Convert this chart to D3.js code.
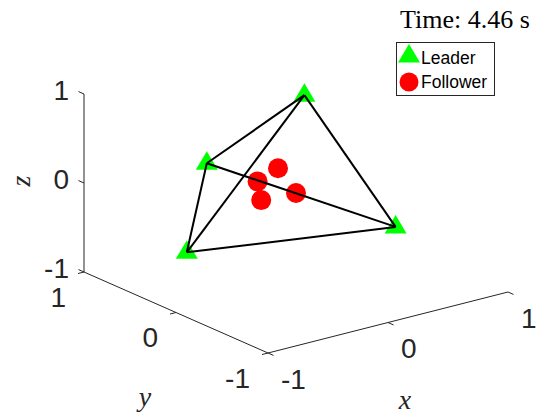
<!DOCTYPE html>
<html>
<head>
<meta charset="utf-8">
<script src="https://cdn.jsdelivr.net/npm/d3@7"></script>
<style>
  body { margin: 0; background: #fff; }
</style>
</head>
<body>
<div id="chart"></div>
<script>
// leader positions (x, y, z) at t = 4.46 s
const leaderX = [0.30, -0.36, -0.68, 0.60];
const leaderY = [0.30, 0.50, 0.30, -0.30];
const leaderZ = [0.86, 0.23, -0.57, -0.45];

// follower positions
const followerX = [-0.15, -0.32, -0.29, 0.00];
const followerY = [0.00, 0.00, 0.00, 0.00];
const followerZ = [0.33, 0.24, 0.02, 0.00];

// leader links (indices)
const links = [[0, 1], [0, 2], [0, 3], [1, 2], [1, 3], [2, 3]];

const ticks = [-1, 0, 1];
const timeLabel = "Time: 4.46 s";

const width = 560, height = 420;
const sans = "'Liberation Sans', Arial, sans-serif";
const serif = "'Liberation Serif', 'Times New Roman', serif";

const svg = d3.select("#chart")
  .append("svg")
  .attr("width", width)
  .attr("height", height)
  .style("font-family", sans);

// orthographic view: each data axis maps to a 2D screen offset
const origin = [296, 193];
const xs = d3.scaleLinear().domain([-1, 1]).range([[-120, 30.5], [120, -30.5]]);
const ys = d3.scaleLinear().domain([-1, 1]).range([[92, 40.5], [-92, -40.5]]);
const zs = d3.scaleLinear().domain([-1, 1]).range([[0, 89], [0, -89]]);

function project(x, y, z) {
  const a = xs(x).slice(), b = ys(y).slice(), c = zs(z).slice();
  return [origin[0] + a[0] + b[0] + c[0], origin[1] + a[1] + b[1] + c[1]];
}

const axisColor = "#262626";
const axes = svg.append("g");

function seg(p, q) {
  axes.append("line")
    .attr("x1", p[0]).attr("y1", p[1])
    .attr("x2", q[0]).attr("y2", q[1])
    .attr("stroke", axisColor)
    .attr("stroke-width", 1);
}

// axis lines
seg(project(-1, -1, -1), project(1, -1, -1));
seg(project(-1, 1, -1), project(-1, -1, -1));
seg(project(-1, 1, -1), project(-1, 1, 1));

const tickFont = 28;

// x ticks
ticks.forEach(t => {
  const p = project(t, -1, -1);
  seg(p, project(t, -1.06, -1));
  axes.append("text")
    .attr("x", p[0] + 13).attr("y", p[1] + 26)
    .attr("dominant-baseline", "central")
    .attr("font-size", tickFont)
    .attr("fill", axisColor)
    .text(t);
});

// y ticks
ticks.forEach(t => {
  const p = project(-1, t, -1);
  seg(p, project(-1.05, t, -1));
  axes.append("text")
    .attr("x", p[0] - 18).attr("y", p[1] + 25)
    .attr("text-anchor", "end")
    .attr("dominant-baseline", "central")
    .attr("font-size", tickFont)
    .attr("fill", axisColor)
    .text(t);
});

// z ticks
ticks.forEach(t => {
  const p = project(-1, 1, t);
  seg(p, project(-1, 1.06, t));
  axes.append("text")
    .attr("x", p[0] - 15).attr("y", p[1] - 4)
    .attr("text-anchor", "end")
    .attr("dominant-baseline", "central")
    .attr("font-size", tickFont)
    .attr("fill", axisColor)
    .text(t);
});

// axis labels
const labelStyle = sel => sel
  .style("font-family", serif)
  .style("font-style", "italic")
  .attr("font-size", 28)
  .attr("fill", axisColor)
  .attr("text-anchor", "middle")
  .attr("dominant-baseline", "central");

svg.append("text").call(labelStyle).attr("x", 405).attr("y", 399).text("x");
svg.append("text").call(labelStyle).attr("x", 145).attr("y", 396).text("y");
svg.append("text").call(labelStyle)
  .attr("transform", "translate(20,181) rotate(-90)")
  .text("z");

// markers
const leaders = leaderX.map((x, i) => project(x, leaderY[i], leaderZ[i]));
const followers = followerX.map((x, i) => project(x, followerY[i], followerZ[i]));

const triPath = "M0,-12L11,6.5L-11,6.5Z";

svg.append("g").selectAll("path")
  .data(leaders)
  .join("path")
  .attr("d", triPath)
  .attr("transform", d => `translate(${d[0]},${d[1]})`)
  .attr("fill", "#00ff00");

svg.append("g").selectAll("circle")
  .data(followers)
  .join("circle")
  .attr("cx", d => d[0])
  .attr("cy", d => d[1])
  .attr("r", 10)
  .attr("fill", "#ff0000");

svg.append("g").selectAll("line")
  .data(links)
  .join("line")
  .attr("x1", d => leaders[d[0]][0])
  .attr("y1", d => leaders[d[0]][1])
  .attr("x2", d => leaders[d[1]][0])
  .attr("y2", d => leaders[d[1]][1])
  .attr("stroke", "#000")
  .attr("stroke-width", 2);

// time label
svg.append("text")
  .attr("x", 400).attr("y", 28)
  .style("font-family", serif)
  .attr("font-size", 26)
  .attr("fill", "#000")
  .text(timeLabel);

// legend
const legend = svg.append("g");
legend.append("rect")
  .attr("x", 396.5).attr("y", 42.5)
  .attr("width", 98).attr("height", 53)
  .attr("fill", "#fff")
  .attr("stroke", axisColor)
  .attr("stroke-width", 1);

legend.append("path")
  .attr("d", triPath)
  .attr("transform", "translate(409,56)")
  .attr("fill", "#00ff00");
legend.append("circle")
  .attr("cx", 409).attr("cy", 82).attr("r", 9.5)
  .attr("fill", "#ff0000");

legend.append("text")
  .attr("x", 421).attr("y", 63.5)
  .attr("font-size", 17.5)
  .attr("fill", "#000")
  .text("Leader");
legend.append("text")
  .attr("x", 421).attr("y", 88)
  .attr("font-size", 17.5)
  .attr("fill", "#000")
  .text("Follower");
</script>
</body>
</html>
